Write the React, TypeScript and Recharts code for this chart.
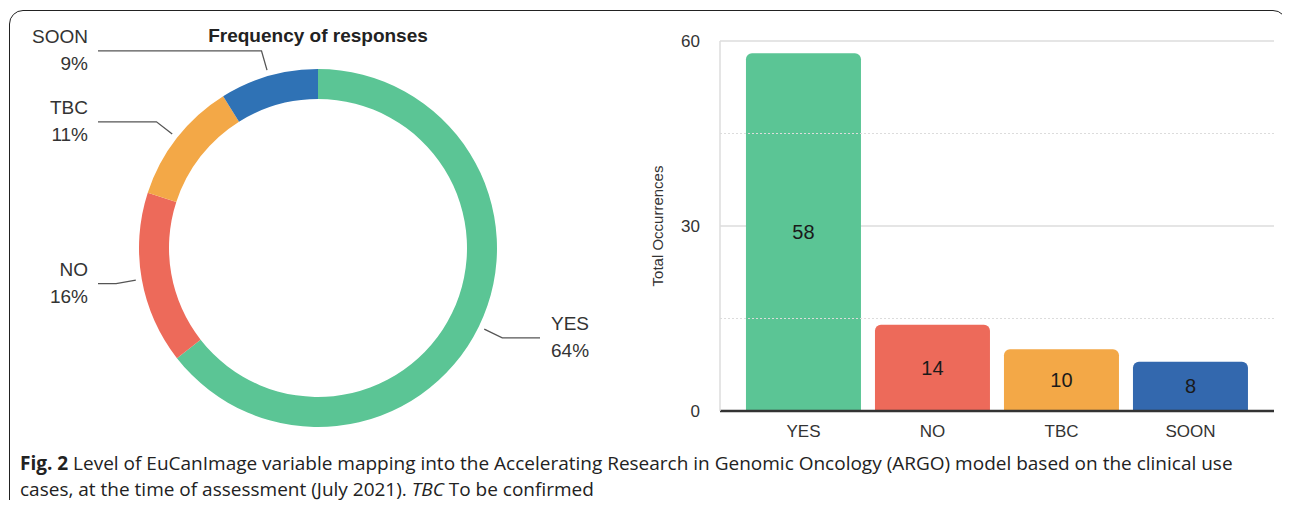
import React from 'react';
import { PieChart, Pie, Cell, BarChart, Bar, XAxis, YAxis, CartesianGrid, ReferenceLine, LabelList } from 'recharts';

const categories = ['YES', 'NO', 'TBC', 'SOON'];
const counts = [58, 14, 10, 8];
const colors = ['#5BC595', '#ED6A5A', '#F3A847', '#2F72B5'];
const barColors = ['#5BC595', '#ED6A5A', '#F3A847', '#3368AE'];
const yTicks = [0, 30, 60];
const yMinor = [15, 45];

const data = categories.map((name, i) => ({ name, value: counts[i] }));

const FONT = '"Liberation Sans", Arial, sans-serif';
const RAD = Math.PI / 180;

const renderPieLabel = (props: any) => {
  const { cx, cy, midAngle, outerRadius, percent, name } = props;
  const cos = Math.cos(-midAngle * RAD);
  const sin = Math.sin(-midAngle * RAD);
  const x1 = cx + (outerRadius + 6) * cos;
  const y1 = cy + (outerRadius + 6) * sin;
  const x2 = cx + (outerRadius + 26) * cos;
  const y2 = cy + (outerRadius + 26) * sin;
  const right = cos > 0;
  const x3 = right ? cx + 222 : cx - 220;
  const tx = right ? x3 + 11 : x3 - 10;
  const anchor = right ? 'start' : 'end';
  return (
    <g>
      <polyline points={`${x1},${y1} ${x2},${y2} ${x3},${y2}`} fill="none" stroke="#555" strokeWidth={1.3} />
      <text x={tx} y={y2 - 8} textAnchor={anchor} fill="#333" fontSize={19} fontFamily={FONT}>{name}</text>
      <text x={tx} y={y2 + 19} textAnchor={anchor} fill="#333" fontSize={19} fontFamily={FONT}>{`${Math.round(percent * 100)}%`}</text>
    </g>
  );
};

export default function App() {
  return (
    <div style={{ position: 'relative', margin: -8, width: 1290, height: 508, overflow: 'hidden', background: '#fff' }}>
      <div style={{ position: 'absolute', left: 9, top: 10, width: 1278, height: 540, border: '1.5px solid #222', borderRadius: 14, boxSizing: 'border-box' }} />
      <div style={{ position: 'absolute', left: 0, top: 0 }}>
        <PieChart width={640} height={440} margin={{ top: 0, right: 0, bottom: 0, left: 0 }}>
          <Pie
            data={data}
            dataKey="value"
            nameKey="name"
            cx={318}
            cy={248}
            innerRadius={149}
            outerRadius={179}
            startAngle={90}
            endAngle={-270}
            stroke="none"
            label={renderPieLabel}
            labelLine={false}
            isAnimationActive={false}
          >
            {data.map((d, i) => (
              <Cell key={d.name} fill={colors[i]} />
            ))}
          </Pie>
          <text x={318} y={42} textAnchor="middle" fontSize={19} fontWeight="bold" fill="#222" fontFamily={FONT}>Frequency of responses</text>
        </PieChart>
      </div>
      <div style={{ position: 'absolute', left: 640, top: 0 }}>
        <BarChart width={650} height={450} data={data} margin={{ top: 41, right: 16, bottom: 0, left: 0 }} barCategoryGap="5.4%">
          <CartesianGrid vertical={false} stroke="#dcdcdc" strokeWidth={1.5} />
          {yMinor.map((v) => (
            <ReferenceLine key={v} y={v} stroke="#dcdcdc" strokeDasharray="2 2" strokeWidth={1} />
          ))}
          <XAxis
            dataKey="name"
            tickLine={false}
            tickSize={0}
            tickMargin={14}
            height={39}
            padding={{ left: 19, right: 19 }}
            axisLine={{ stroke: '#333', strokeWidth: 2.5 }}
            tick={{ fill: '#333', fontSize: 17, fontFamily: FONT }}
          />
          <YAxis
            domain={[0, 60]}
            ticks={yTicks}
            width={80}
            tickLine={false}
            tickSize={0}
            tickMargin={20}
            axisLine={{ stroke: '#dcdcdc', strokeWidth: 1.5 }}
            tick={{ fill: '#333', fontSize: 17, fontFamily: FONT }}
            label={{
              content: (p: any) => {
                const vb = p.viewBox;
                const x = vb.x + 17;
                const y = vb.y + vb.height / 2;
                return (
                  <text x={x} y={y} transform={`rotate(-90 ${x} ${y})`} textAnchor="middle" dominantBaseline="central" fontSize={15} fill="#333" fontFamily={FONT}>
                    Total Occurrences
                  </text>
                );
              },
            }}
          />
          <YAxis
            yAxisId="right"
            orientation="right"
            width={0}
            tick={false}
            tickLine={false}
            axisLine={{ stroke: '#dcdcdc', strokeWidth: 1.5 }}
          />
          <Bar dataKey="value" radius={[6, 6, 0, 0]} isAnimationActive={false}>
            {data.map((d, i) => (
              <Cell key={d.name} fill={barColors[i]} />
            ))}
            <LabelList dataKey="value" position="center" fill="#1a1a1a" fontSize={20} fontFamily={FONT} />
          </Bar>
        </BarChart>
      </div>
      <div style={{ position: 'absolute', left: 20, top: 450, fontFamily: '"Open Sans", sans-serif', fontSize: 19, lineHeight: '26px', color: '#222', whiteSpace: 'nowrap' }}>
        <b>Fig. 2</b> Level of EuCanImage variable mapping into the Accelerating Research in Genomic Oncology (ARGO) model based on the clinical use
        <br />
        cases, at the time of assessment (July 2021). <i>TBC</i> To be confirmed
      </div>
    </div>
  );
}
